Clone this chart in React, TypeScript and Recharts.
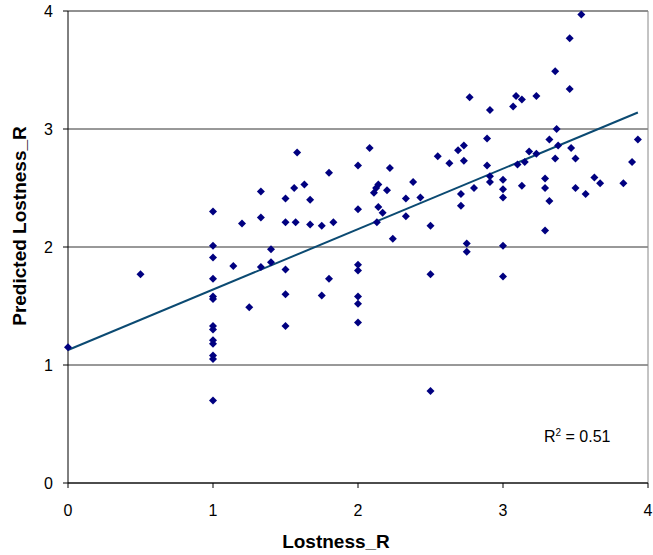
import React from 'react';
import { ScatterChart, Scatter, XAxis, YAxis, CartesianGrid, ReferenceLine, Label } from 'recharts';

// Lostness_R (x) vs Predicted Lostness_R (y)
const lostness = [
  0.0, 0.5, 1.0, 1.0, 1.0, 1.0, 1.0, 1.0, 1.0, 1.0, 1.0, 1.0, 1.0, 1.0, 1.0,
  1.14, 1.2, 1.25, 1.33, 1.33, 1.33, 1.4, 1.4, 1.5, 1.5, 1.5, 1.5, 1.5,
  1.56, 1.57, 1.58, 1.63, 1.67, 1.67, 1.75, 1.75, 1.8, 1.8, 1.83,
  2.0, 2.0, 2.0, 2.0, 2.0, 2.0, 2.0, 2.08, 2.11, 2.125, 2.14, 2.13, 2.14, 2.17,
  2.2, 2.22, 2.24, 2.33, 2.33, 2.38, 2.43, 2.5, 2.5, 2.5, 2.55, 2.63, 2.69,
  2.71, 2.71, 2.73, 2.73, 2.75, 2.75, 2.77, 2.8, 2.89, 2.89, 2.91, 2.91, 2.91,
  3.0, 3.0, 3.0, 3.0, 3.0, 3.07, 3.09, 3.1, 3.13, 3.13, 3.15, 3.18, 3.23, 3.23,
  3.29, 3.29, 3.29, 3.32, 3.32, 3.36, 3.36, 3.37, 3.38, 3.46, 3.46, 3.47,
  3.5, 3.5, 3.54, 3.57, 3.63, 3.67, 3.83, 3.89, 3.93,
];
const predicted = [
  1.15, 1.77, 2.3, 2.01, 1.91, 1.73, 1.58, 1.56, 1.33, 1.3, 1.21, 1.18, 1.08, 1.05, 0.7,
  1.84, 2.2, 1.49, 2.47, 2.25, 1.83, 1.98, 1.87, 2.41, 2.21, 1.81, 1.6, 1.33,
  2.5, 2.21, 2.8, 2.53, 2.4, 2.19, 2.18, 1.59, 2.63, 1.73, 2.21,
  2.69, 2.32, 1.85, 1.8, 1.58, 1.52, 1.36, 2.84, 2.46, 2.5, 2.53, 2.21, 2.34, 2.29,
  2.48, 2.67, 2.07, 2.41, 2.26, 2.55, 2.42, 2.18, 1.77, 0.78, 2.77, 2.71, 2.82,
  2.45, 2.35, 2.86, 2.73, 2.03, 1.96, 3.27, 2.5, 2.92, 2.69, 3.16, 2.6, 2.55,
  2.57, 2.49, 2.42, 2.01, 1.75, 3.19, 3.28, 2.7, 3.25, 2.52, 2.72, 2.81, 3.28, 2.79,
  2.58, 2.5, 2.14, 2.91, 2.39, 3.49, 2.75, 3.0, 2.86, 3.77, 3.34, 2.84,
  2.75, 2.5, 3.97, 2.45, 2.59, 2.54, 2.54, 2.72, 2.91,
];
const trendX = [0, 3.93];
const trendY = [1.127, 3.14];
const ticks = [0, 1, 2, 3, 4];

const data = lostness.map((x, i) => ({ x, y: predicted[i] }));

const FONT = '"Liberation Sans", Arial, sans-serif';

const Diamond = (props: any) => {
  const { cx, cy } = props;
  const r = 4;
  return (
    <polygon
      points={`${cx},${cy - r} ${cx + r},${cy} ${cx},${cy + r} ${cx - r},${cy}`}
      fill="#000080"
    />
  );
};

export default function App() {
  return (
    <div style={{ position: 'absolute', left: 0, top: 0, width: 653, height: 555, fontFamily: FONT, background: '#fff' }}>
      <ScatterChart width={653} height={555} margin={{ top: 11, right: 5, left: 0, bottom: 0 }}>
        <CartesianGrid vertical={false} stroke="#333" strokeWidth={1} />
        <XAxis
          type="number"
          dataKey="x"
          domain={[0, 4]}
          ticks={ticks}
          height={72}
          stroke="#000"
          tickSize={5}
          tickMargin={17}
          tick={{ fill: '#000', fontSize: 16, fontFamily: FONT }}
        >
          <Label
            content={() => (
              <text x={336} y={548} textAnchor="middle" fontSize={19} fontWeight="bold" fontFamily={FONT} fill="#000">
                Lostness_R
              </text>
            )}
          />
        </XAxis>
        <YAxis
          type="number"
          dataKey="y"
          domain={[0, 4]}
          ticks={ticks}
          width={68}
          stroke="#000"
          tickSize={5}
          tickMargin={10}
          tick={{ fill: '#000', fontSize: 16, fontFamily: FONT }}
        >
          <Label
            content={() => (
              <text
                x={0}
                y={0}
                transform="translate(26,226) rotate(-90)"
                textAnchor="middle"
                fontSize={19}
                fontWeight="bold"
                fontFamily={FONT}
                fill="#000"
              >
                Predicted Lostness_R
              </text>
            )}
          />
        </YAxis>
        <ReferenceLine y={4} stroke="#888" />
        <ReferenceLine x={4} stroke="#888" />
        <ReferenceLine
          segment={[
            { x: trendX[0], y: trendY[0] },
            { x: trendX[1], y: trendY[1] },
          ]}
          stroke="#0b4a72"
          strokeWidth={2}
        />
        <Scatter data={data} shape={<Diamond />} isAnimationActive={false} />
      </ScatterChart>
      <div
        style={{
          position: 'absolute',
          left: 544,
          top: 429,
          fontSize: 16,
          lineHeight: '16px',
          color: '#000',
          whiteSpace: 'nowrap',
        }}
      >
        R<span style={{ fontSize: 10, position: 'relative', top: -6 }}>2</span> = 0.51
      </div>
    </div>
  );
}
